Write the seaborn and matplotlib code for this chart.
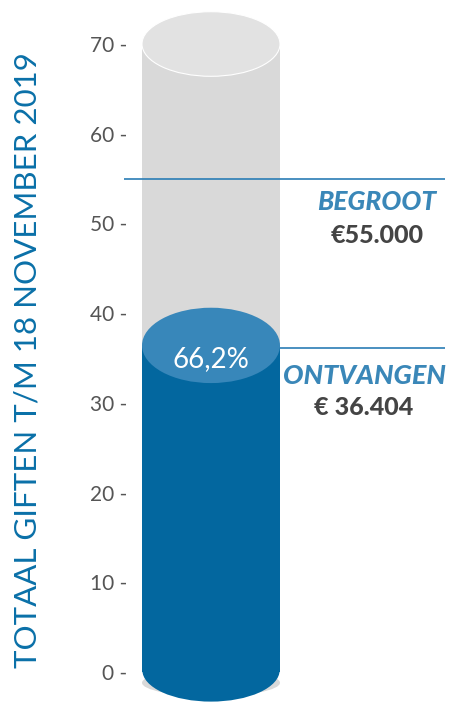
import matplotlib
matplotlib.use("Agg")
import matplotlib.pyplot as plt
from matplotlib.patches import Ellipse
import seaborn as sns
import pandas as pd

# ---- data ----
categories = ["Giften"]
scale_max = [70]
ontvangen = [36.404]   # x 1000 euro
begroot = [55.0]       # x 1000 euro
percentage_label = "66,2%"
ontvangen_label = "€ 36.404"
begroot_label = "€55.000"
tick_values = [0, 10, 20, 30, 40, 50, 60, 70]
tick_labels = [f"{t} -" for t in tick_values]
ylabel_text = "TOTAAL GIFTEN T/M 18 NOVEMBER 2019"

sns.set_theme(style="white")
plt.rcParams['font.family'] = ['Lato', 'DejaVu Sans']

GRAY = "#d9d9d9"
GRAY_TOP = "#e2e2e2"
BLUE = "#03679f"
BLUE_TOP = "#3887ba"
LINE = "#2a7db5"
LABEL_BLUE = "#0a70a8"
TEXT_DARK = "#444444"

W, H = 450, 704
fig = plt.figure(figsize=(W / 100, H / 100), dpi=100)
ax = fig.add_axes([130 / W, 0, 320 / W, 1])

df_bg = pd.DataFrame({"cat": categories, "val": scale_max})
df_fg = pd.DataFrame({"cat": categories, "val": ontvangen})

sns.barplot(data=df_bg, x="cat", y="val", color=GRAY, width=1.0, ax=ax,
            saturation=1, linewidth=0, zorder=1)
sns.barplot(data=df_fg, x="cat", y="val", color=BLUE, width=1.0, ax=ax,
            saturation=1, linewidth=0, zorder=3)

# px -> data helpers for layout
px_per_unit_x = 138.0
xl = -0.5 - 12 / px_per_unit_x
xr = 0.5 + 170 / px_per_unit_x
ax.set_xlim(xl, xr)
px_per_unit_y = (672 - 44) / 70.0
y_top = 70 + 44 / px_per_unit_y
y_bot = -(704 - 672) / px_per_unit_y
ax.set_ylim(y_bot, y_top)

# cylinder ellipses
ax.add_patch(Ellipse((0, -1.2), 1.0, 3.0, facecolor=GRAY, edgecolor="none", zorder=0.5))
ax.add_patch(Ellipse((0, 0.2), 0.995, 7.0, facecolor=BLUE, edgecolor="none", zorder=3))
ax.add_patch(Ellipse((0, scale_max[0]), 1.0, 7.2, facecolor=GRAY_TOP, edgecolor="white",
                     linewidth=0.8, zorder=2))
ax.add_patch(Ellipse((0, ontvangen[0]), 1.0, 8.4, facecolor=BLUE_TOP, edgecolor="none", zorder=4))

# reference lines
x_line_left = -0.5 - 18 / px_per_unit_x
x_line_right = 0.5 + 165 / px_per_unit_x
ax.hlines(begroot[0], x_line_left, x_line_right, color=LINE, linewidth=1.2, zorder=5,
          clip_on=False)
ax.hlines(ontvangen[0] - 0.3, 0.5, x_line_right, color=LINE, linewidth=1.2, zorder=5)

# annotations
x_beg = -0.5 + (377 - 142) / px_per_unit_x
x_ont = -0.5 + (364 - 142) / px_per_unit_x
ax.text(x_beg, begroot[0] - 2.6, "BEGROOT", color="#3a87b8", fontsize=19,
        fontweight="black", fontstyle="italic", ha="center", va="center", zorder=6)
ax.text(x_beg, begroot[0] - 6.3, begroot_label, color=TEXT_DARK, fontsize=18,
        fontweight="black", ha="center", va="center", zorder=6)
ax.text(x_ont, ontvangen[0] - 3.4, "ONTVANGEN", color="#3a87b8", fontsize=19.5,
        fontweight="black", fontstyle="italic", ha="center", va="center", zorder=6)
ax.text(x_ont, ontvangen[0] - 6.9, ontvangen_label, color=TEXT_DARK, fontsize=18,
        fontweight="black", ha="center", va="center", zorder=6)
ax.text(0, ontvangen[0] - 1.5, percentage_label, color="white", fontsize=20,
        fontweight="normal", ha="center", va="center", zorder=6)

# axes styling
ax.set_yticks(tick_values)
ax.set_yticklabels(tick_labels, fontsize=15, color="#555555", fontweight="normal")
ax.tick_params(axis="y", length=0, pad=2.2)
ax.set_xticks([])
ax.set_xlabel("")
ax.set_ylabel(ylabel_text, fontsize=22.5, color=LABEL_BLUE, va="center")
ax.yaxis.set_label_coords((28 - 130) / 320, (704 - 360) / 704)
for s in ax.spines.values():
    s.set_visible(False)
ax.set_facecolor("none")

fig.savefig("out.png", dpi=100, facecolor="white")
